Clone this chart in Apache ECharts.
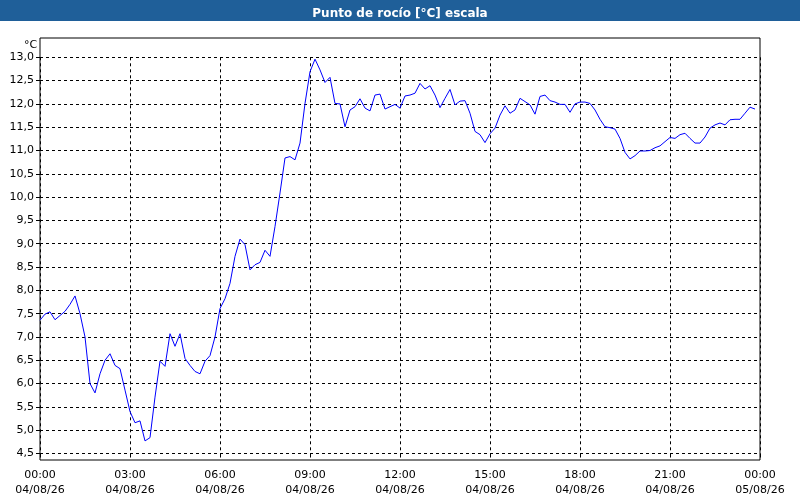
<!DOCTYPE html>
<html><head><meta charset="utf-8">
<script src="https://cdn.jsdelivr.net/npm/echarts@6/dist/echarts.min.js"></script>
<style>html,body{margin:0;padding:0;background:#fff}#c{width:800px;height:500px}</style>
</head><body><div id="c"></div>
<script>
const titleText = "Punto de rocío [°C] escala";
const stepMinutes = 10;
const values = [7.36,7.49,7.54,7.37,7.46,7.55,7.7,7.88,7.5,7.0,6.0,5.8,
6.21,6.5,6.64,6.39,6.32,5.86,5.4,5.16,5.2,4.77,4.84,5.71,
6.48,6.37,7.07,6.8,7.07,6.54,6.39,6.26,6.21,6.48,6.6,7.0,
7.61,7.82,8.15,8.73,9.1,8.98,8.44,8.55,8.6,8.86,8.73,9.37,
10.09,10.84,10.87,10.8,11.16,12.01,12.69,12.96,12.73,12.46,12.57,12.01,
12.0,11.51,11.87,11.94,12.11,11.91,11.85,12.19,12.21,11.89,11.94,11.99,
11.91,12.17,12.19,12.23,12.44,12.32,12.39,12.19,11.92,12.12,12.31,11.98,
12.06,12.07,11.8,11.41,11.34,11.17,11.36,11.48,11.76,11.96,11.8,11.87,
12.12,12.05,11.98,11.78,12.16,12.19,12.07,12.04,11.99,11.99,11.82,12.0,
12.04,12.04,12.01,11.87,11.67,11.51,11.49,11.46,11.26,10.96,10.82,10.89,
10.99,10.99,11.0,11.06,11.1,11.19,11.28,11.26,11.34,11.37,11.26,11.16,
11.16,11.29,11.48,11.55,11.59,11.55,11.66,11.67,11.67,11.8,11.93,11.89];
const xTickLabels = ["00:00\n04/08/26","03:00\n04/08/26","06:00\n04/08/26","09:00\n04/08/26","12:00\n04/08/26","15:00\n04/08/26","18:00\n04/08/26","21:00\n04/08/26","00:00\n05/08/26"];
const yUnit = "°C";

const data = values.map((v,i)=>[i*stepMinutes, v]);
const chart = echarts.init(document.getElementById('c'));
chart.setOption({
  animation:false,
  backgroundColor:'#fff',
  textStyle:{fontFamily:'DejaVu Sans'},
  title:{text:titleText,left:'center',top:3,textStyle:{color:'#fff',fontSize:12,fontWeight:'bold',fontFamily:'DejaVu Sans'}},
  graphic:[
    {type:'rect',z:-10,shape:{x:0,y:0,width:800,height:21},style:{fill:'#1f5f99'}},
    {type:'rect',z:-5,shape:{x:40,y:38,width:720,height:422},style:{fill:'none',stroke:'#000',lineWidth:1}},
    {type:'text',left:24,top:40,style:{text:yUnit,fontSize:11,fill:'#000',fontFamily:'DejaVu Sans'}}
  ],
  grid:{left:40,right:40,top:57.3,bottom:46.5},
  xAxis:{type:'value',min:0,max:1440,interval:180,
    axisLine:{show:false},axisTick:{show:true,length:4,lineStyle:{color:'#000'}},
    axisLabel:{color:'#000',fontSize:11,lineHeight:15,margin:14,formatter:(v)=>xTickLabels[Math.round(v/180)]},
    splitLine:{show:true,lineStyle:{color:'#000',type:[3,3],width:1}}},
  yAxis:{type:'value',min:4.5,max:13,interval:0.5,
    axisLine:{show:false},axisTick:{show:true,length:4,lineStyle:{color:'#000'}},
    axisLabel:{color:'#000',fontSize:11,margin:6,formatter:(v)=>v.toFixed(1).replace('.',',')},
    splitLine:{show:true,lineStyle:{color:'#000',type:[3,3],width:1}}},
  series:[{type:'line',data:data,symbol:'none',lineStyle:{color:'#0000ff',width:1}}]
});
</script></body></html>
